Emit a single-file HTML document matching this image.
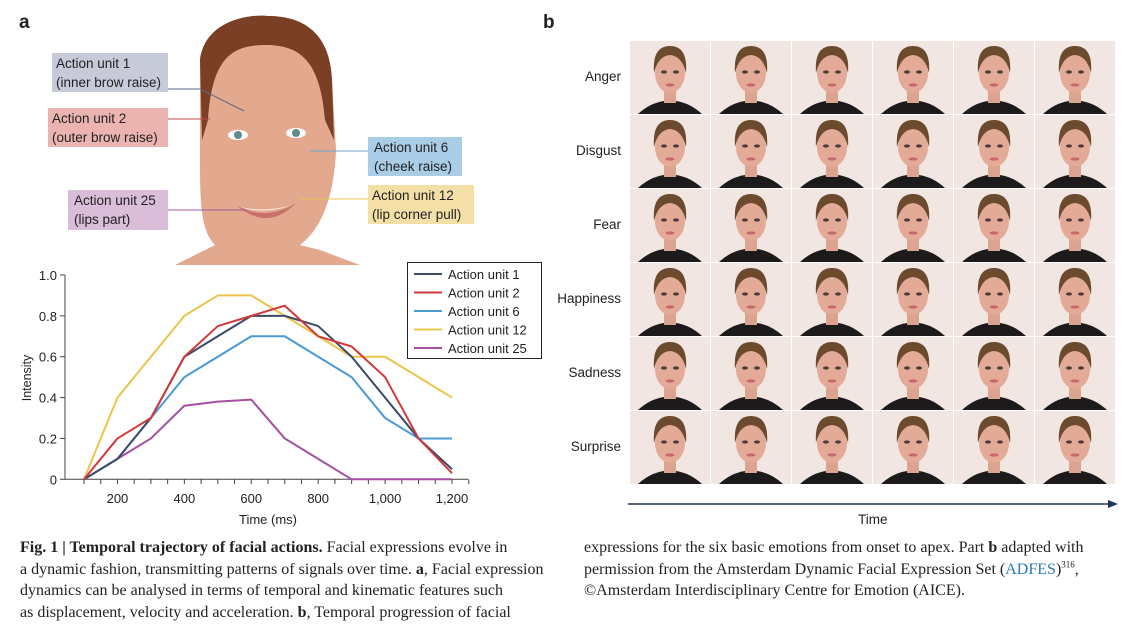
<!DOCTYPE html>
<html><head><meta charset="utf-8">
<style>
body{margin:0;width:1144px;height:627px;background:#fff;overflow:hidden;position:relative;font-family:"Liberation Sans",sans-serif;color:#222}
.abs{position:absolute}
.lbl{position:absolute;font-size:13.5px;line-height:19px;padding:1px 4px;color:#222;box-sizing:border-box}
.cap{position:absolute;font-family:"Liberation Serif",serif;font-size:16px;line-height:21.5px;color:#222}
.cap sup{line-height:0;font-size:9px}
.emo{position:absolute;left:520px;width:101px;font-size:13.5px;text-align:right}
</style></head><body>
<div class="abs" style="left:19px;top:12px;font-weight:bold;font-size:19px">a</div>
<div class="abs" style="left:543px;top:12px;font-weight:bold;font-size:19px">b</div>

<svg class="abs" style="left:0;top:0" width="560" height="270">
  <path d="M200,60 C205,20 250,14 268,16 C300,16 330,30 332,80 L336,150 C334,200 320,230 300,245 L320,250 L360,265 L175,265 L215,245 C200,230 200,200 200,150 Z" fill="#e2a98e"/>
  <path d="M200,60 C205,20 250,14 268,16 C300,16 330,30 332,80 L334,140 L325,120 C320,60 300,45 265,45 C230,45 212,60 208,120 L202,140 Z" fill="#7a3f24"/>
  <ellipse cx="238" cy="135" rx="10" ry="5" fill="#fff"/><circle cx="238" cy="135" r="4" fill="#5f8a8a"/>
  <ellipse cx="296" cy="133" rx="10" ry="5" fill="#fff"/><circle cx="296" cy="133" r="4" fill="#5f8a8a"/>
  <path d="M236,205 Q265,222 296,203 Q268,232 236,205Z" fill="#c9706a"/>
  <path d="M240,207 Q265,215 292,205 Q266,213 240,207Z" fill="#fff"/>
  <line x1="168" y1="89" x2="200" y2="89" stroke="#5a6a8a"/><line x1="200" y1="89" x2="244" y2="111" stroke="#5a6a8a"/>
  <line x1="168" y1="119" x2="210" y2="119" stroke="#c74a4a"/>
  <line x1="310" y1="151" x2="368" y2="151" stroke="#6fa5d0"/>
  <line x1="300" y1="199" x2="368" y2="199" stroke="#e8c455"/>
  <line x1="168" y1="210" x2="246" y2="210" stroke="#a05aa0"/>
</svg>
<div class="lbl" style="left:52px;top:53px;width:116px;height:39px;background:#c6cad9">Action unit 1<br>(inner brow raise)</div>
<div class="lbl" style="left:48px;top:108px;width:120px;height:39px;background:#ebb4b0">Action unit 2<br>(outer brow raise)</div>
<div class="lbl" style="left:368px;top:137px;width:94px;height:39px;background:#a9cce7;padding-left:6px">Action unit 6<br>(cheek raise)</div>
<div class="lbl" style="left:368px;top:185px;width:106px;height:39px;background:#f4e0a7">Action unit 12<br>(lip corner pull)</div>
<div class="lbl" style="left:68px;top:190px;width:100px;height:40px;background:#d9bdd9;padding-left:6px">Action unit 25<br>(lips part)</div>

<svg id="chart" class="abs" style="left:0;top:260px" width="560" height="275"></svg>

<div class="cap" style="left:20px;top:537px;width:550px"><b>Fig. 1 | Temporal trajectory of facial actions.</b> Facial expressions evolve in<br>a dynamic fashion, transmitting patterns of signals over time. <b>a</b>, Facial expression<br>dynamics can be analysed in terms of temporal and kinematic features such<br>as displacement, velocity and acceleration. <b>b</b>, Temporal progression of facial</div>
<div class="cap" style="left:584px;top:537px;width:555px">expressions for the six basic emotions from onset to apex. Part <b>b</b> adapted with<br>permission from the Amsterdam Dynamic Facial Expression Set (<span style="color:#2a7ab8">ADFES</span>)<sup>316</sup>,<br>©Amsterdam Interdisciplinary Centre for Emotion (AICE).</div>

<div id="grid" class="abs" style="left:0;top:0;width:1144px;height:0"></div>
<svg class="abs" style="left:628px;top:496px" width="492" height="16">
  <line x1="0" y1="8" x2="484" y2="8" stroke="#1e3550" stroke-width="1.5"/><path d="M480,4 L490,8 L480,12Z" fill="#1e3550"/>
</svg>
<div class="abs" style="left:858px;top:512px;font-size:13.5px">Time</div>

<script>
const NS="http://www.w3.org/2000/svg";
const times=[100,200,300,400,500,600,700,800,900,1000,1100,1200];
const au1=[0,0.1,0.3,0.6,0.7,0.8,0.8,0.75,0.6,0.4,0.2,0.05];
const au2=[0,0.2,0.3,0.6,0.75,0.8,0.85,0.7,0.65,0.5,0.2,0.03];
const au6=[0,0.1,0.3,0.5,0.6,0.7,0.7,0.6,0.5,0.3,0.2,0.2];
const au12=[0,0.4,0.6,0.8,0.9,0.9,0.8,0.7,0.6,0.6,0.5,0.4];
const au25=[0,0.1,0.2,0.36,0.38,0.39,0.2,0.1,0,0,0,0];
const seriesNames=["Action unit 1","Action unit 2","Action unit 6","Action unit 12","Action unit 25"];
const xTicks=[200,400,600,800,1000,1200];
const xTickLabels=["200","400","600","800","1,000","1,200"];
const yTicks=[0,0.2,0.4,0.6,0.8,1.0];
const yTickLabels=["0","0.2","0.4","0.6","0.8","1.0"];
const svg=document.getElementById('chart');
const X=v=>84+(v-100)*(452-84)/1100;
const Y=v=>219.3-v*(219.3-15);
function mk(t,a){const e=document.createElementNS(NS,t);for(const k in a)e.setAttribute(k,a[k]);svg.appendChild(e);return e;}
let ax=mk('path',{d:`M65,15 L65,219.3 L468,219.3`,fill:'none',stroke:'#444','stroke-width':1});


for(let v=100;v<=1250;v+=50){const t=mk('line',{x1:X(v),x2:X(v),y1:219.3,y2:224,stroke:'#444'});}
xTicks.forEach((v,i)=>{const t=mk('text',{x:X(v),y:243,'text-anchor':'middle','font-size':13,fill:'#222'});t.textContent=xTickLabels[i];});
yTicks.forEach((v,i)=>{mk('line',{x1:60,x2:65,y1:Y(v),y2:Y(v),stroke:'#444'});const t=mk('text',{x:57,y:Y(v)+5,'text-anchor':'end','font-size':13,fill:'#222'});t.textContent=yTickLabels[i];});
let xt=mk('text',{x:268,y:264,'text-anchor':'middle','font-size':13,fill:'#222'});xt.textContent='Time (ms)';


let yt=mk('text',{x:0,y:0,transform:'translate(31,118) rotate(-90)','text-anchor':'middle','font-size':12.5,fill:'#222'});yt.textContent='Intensity';


const data=[au1,au2,au6,au12,au25];
const colors=["#3b4a66","#d0393a","#4b9ad6","#ecc44a","#a44fa0"];
const order=[3,4,2,0,1];
order.forEach(s=>{const p=mk('polyline',{points:times.map((t,i)=>X(t)+','+Y(data[s][i])).join(' '),fill:'none',stroke:colors[s],'stroke-width':2,'stroke-linejoin':'round'});});
let lg=mk('rect',{x:407.5,y:2.5,width:134,height:96,fill:'#fff',stroke:'#222','stroke-width':1});


seriesNames.forEach((n,i)=>{const y=14+i*18.5;mk('line',{x1:414,x2:442,y1:y,y2:y,stroke:colors[i],'stroke-width':2});const t=mk('text',{x:448,y:y+5,'font-size':13,fill:'#222'});t.textContent=n;});

const emotions=["Anger","Disgust","Fear","Happiness","Sadness","Surprise"];
const g=document.getElementById('grid');
let html='';
emotions.forEach((e,r)=>{
  const top=41+r*74;
  html+=`<div class="emo" style="top:${top+28}px">${e}</div>`;
  for(let c=0;c<6;c++){
    const left=630+c*81;
    html+=`<svg class="abs" style="left:${left}px;top:${top}px" width="80" height="73"><rect width="80" height="73" fill="#f1e6e1"/><path d="M8,73 Q20,62 34,60 L46,60 Q60,62 72,73Z" fill="#1c1a1a"/><rect x="34" y="50" width="12" height="12" fill="#dba48f"/><ellipse cx="40" cy="32" rx="15" ry="20" fill="#e3ab97"/><path d="M24,32 Q22,5 40,5 Q58,5 56,32 Q52,15 40,14 Q28,15 24,32Z" fill="#6b4a2e"/><ellipse cx="34" cy="31" rx="3" ry="1.6" fill="#4a3a3a"/><ellipse cx="46" cy="31" rx="3" ry="1.6" fill="#4a3a3a"/><ellipse cx="40" cy="44" rx="4.5" ry="1.6" fill="#c7686a"/></svg>`;
  }
});
g.innerHTML=html;
</script>
</body></html>
